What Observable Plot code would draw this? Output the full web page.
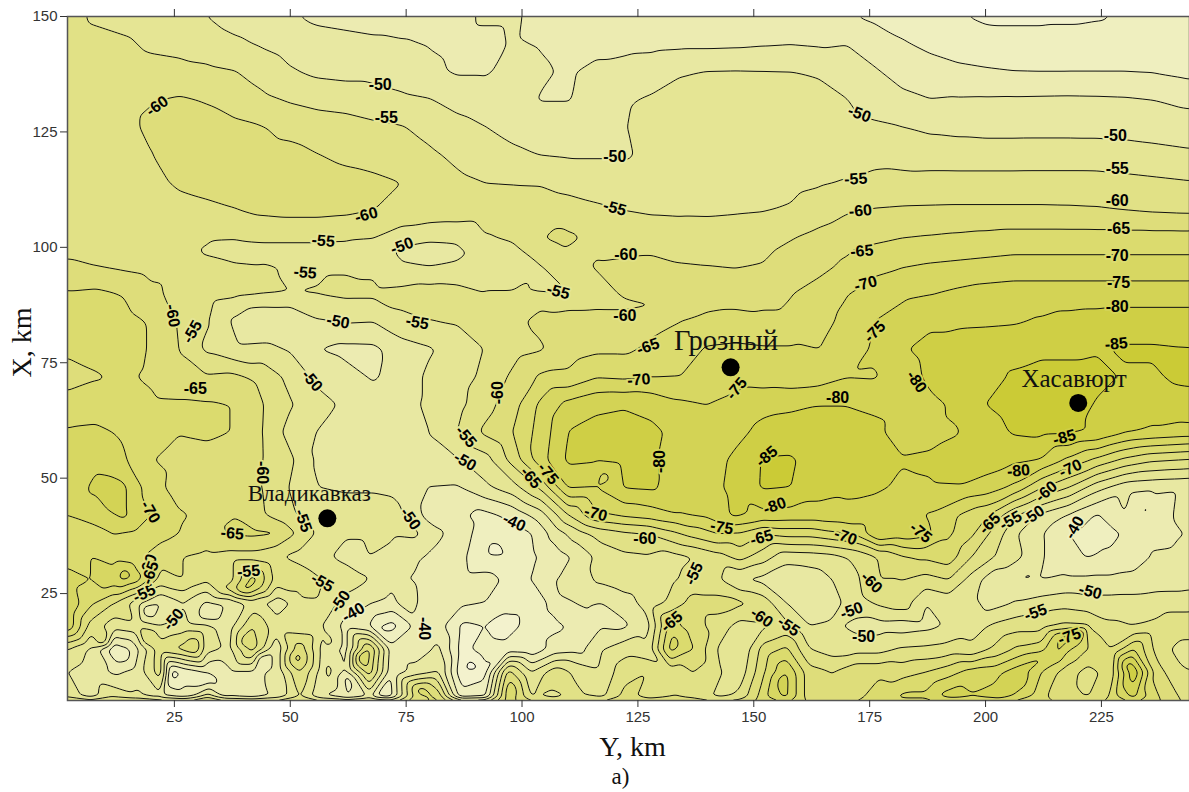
<!DOCTYPE html>
<html><head><meta charset="utf-8">
<style>html,body{margin:0;padding:0;background:#fff}svg{display:block}</style>
<script src="https://cdn.jsdelivr.net/npm/d3@7"></script>
<script src="https://cdn.jsdelivr.net/npm/@observablehq/plot@0.6"></script>
</head><body><div id="chart"></div>
<script>
const upperX = [2,8,14,20,26,32,38,44,50,56,62,68,74,80,86,92,98,104,110,116,122,128,134,140,146,152,158,164,170,176,182,188,194,200,206,212,218,224,230,236,242,248];
const upperY = [150,144,138,132,126,120,114,108,102,96,90,84,78,72,66,60,54,48,42];
const upperRows = [
[-57,-54,-53,-52,-51,-50,-48,-47,-45.5,-44,-43.5,-43,-43,-43,-44,-45.5,-45.5,-44,-44,-43.5,-43,-43,-43,-42,-42,-41,-41,-41,-40.5,-39,-38,-37,-35.5,-34,-34,-34,-34,-34.5,-35.5,-36,-36.5,-37],
[-58,-57,-56,-54,-53.5,-52.5,-51,-49.5,-48,-47,-46.5,-46,-45.5,-44.8,-44,-44,-45.3,-44.8,-44,-43.5,-43.5,-43.7,-44,-44,-44.2,-44.6,-44.9,-44.5,-44.9,-43,-40.5,-39,-38,-37.5,-37,-37,-37.5,-37.5,-37.5,-37.5,-38,-38],
[-59,-58.5,-58,-57,-56.5,-56,-55.2,-53,-50.5,-49,-48.5,-48.5,-47.5,-46,-44.5,-44.5,-46.5,-45.5,-44.5,-46.2,-47,-48,-49.5,-50.2,-50.3,-50.2,-50.1,-49.5,-48,-45.5,-43.5,-42,-41,-40.5,-40.1,-40,-40,-40,-40,-39.8,-39,-38],
[-58,-58,-59,-59.8,-60.5,-59.7,-58,-56,-54.5,-53.5,-53,-52,-51,-50.2,-48.5,-47.5,-46.5,-44.8,-44.8,-47,-49.5,-50.5,-52,-52.5,-52.7,-52.5,-52,-51.5,-50.1,-48,-46,-45.1,-45.4,-45.5,-45.6,-45.7,-45.8,-45.7,-45.5,-45,-44,-43],
[-57.5,-58,-59,-60.7,-61.5,-61.5,-61,-60.2,-58.5,-57.5,-57,-56,-55.3,-53.5,-51.5,-50.1,-48.5,-47.5,-47.5,-48.5,-49.8,-51.5,-53,-53.7,-53.8,-53.7,-53.2,-52.7,-51.5,-50.7,-50.1,-49.2,-48.8,-48.5,-48.5,-48.5,-48.5,-48.5,-48.4,-48,-47.5,-47],
[-57,-57.5,-58,-59.9,-61.5,-62,-62,-62,-61.5,-60.1,-59,-58.2,-57.5,-55.8,-54,-52.5,-51,-49.9,-49.5,-49.5,-49.5,-51,-53,-54,-54.3,-54,-53.7,-53,-53,-53.3,-52.8,-52.4,-52.3,-52.3,-52.3,-52.4,-52.4,-52.3,-52,-51.5,-51,-50.5],
[-56.5,-57,-57.5,-58.5,-60.8,-61.5,-62,-62.5,-62.5,-62.3,-61.5,-61,-60,-58,-56,-55,-54.8,-54.7,-53.8,-53.2,-52.5,-52.5,-52.5,-52.5,-52.8,-53,-53.7,-54.5,-55.3,-56.5,-56.8,-57,-57,-57,-57,-57,-57,-57,-56.5,-56,-55.5,-55],
[-56.5,-57,-57,-57.5,-58,-59,-59.8,-61,-61.5,-61.5,-61,-60,-59,-58.5,-58,-57.5,-57.5,-57,-56.5,-55.7,-55,-54.5,-54.3,-54.2,-54.5,-54.8,-55.5,-57.5,-59.5,-60.3,-60.6,-60.7,-60.8,-60.8,-60.8,-60.8,-60.7,-60.5,-60,-59.5,-59.2,-59],
[-57,-56.5,-56.5,-56.5,-56.5,-55.5,-55.3,-55.5,-55.5,-55.5,-55.3,-55,-52,-50.6,-50.8,-54.5,-55.7,-59.7,-61,-58.5,-57.5,-57.5,-57.5,-57.8,-58,-58.5,-59.8,-61.5,-63,-64,-65,-65.5,-66,-66.5,-67,-67,-67,-67,-67,-67,-67,-67],
[-61,-60,-59,-58,-57.5,-56.5,-55.7,-55.2,-54.8,-54.5,-54.5,-54,-50.5,-49.8,-50.6,-53,-53.5,-54.8,-57.5,-60.5,-61,-61.5,-60.3,-60,-59.7,-60.2,-62,-63.5,-66,-68.7,-69.7,-70.5,-71,-71.5,-72,-72,-72,-72,-72,-72,-72,-72],
[-65.5,-66,-64.8,-61.5,-58,-57,-56,-55.3,-55,-55.2,-56,-56,-56.5,-57.5,-57,-55.2,-55.2,-54.9,-54.8,-57.5,-60.7,-62,-63,-63,-63,-63.5,-64.8,-67,-69.7,-72,-74,-74.8,-76,-77,-77.5,-77.5,-77.5,-77.5,-77.5,-77.5,-77.5,-77.5],
[-66,-67,-66.5,-64.5,-59.5,-55.5,-49,-44.5,-44.8,-49.5,-50.5,-50.2,-54,-54.9,-55.5,-56.5,-59,-61,-62,-62.7,-62.5,-63.5,-64.9,-66,-66.5,-66,-66,-68,-71.5,-75,-77,-79,-79,-79.2,-79.5,-80.5,-81.5,-82,-82.5,-82.5,-82.5,-82.5],
[-66,-67,-67.5,-64.5,-60,-54,-51,-51.5,-49.5,-45,-43.8,-44,-47.5,-49.5,-52,-55.2,-58,-59.5,-62.5,-64,-64,-66,-67.5,-70.5,-71,-70.5,-70.5,-70,-71,-76,-79.5,-81.5,-82.5,-83,-83.5,-84,-84,-84.5,-85.5,-85.5,-85.2,-85],
[-63,-64.5,-66,-64,-60.2,-60.5,-61,-58.5,-53.5,-48.5,-46.5,-44.5,-47,-51,-53,-56,-61,-65.7,-66,-69.5,-69,-69.8,-70,-72,-73,-72.5,-72,-72.5,-74.7,-74.5,-77.5,-81,-83,-83.5,-85.5,-86.5,-86.5,-86.5,-84.5,-84.5,-85.7,-86],
[-67,-68,-68,-66.3,-66,-65.5,-64.9,-60.2,-55.5,-52,-49,-47,-48,-51,-53.5,-58,-63,-71,-76.5,-79,-79.5,-78.5,-76,-75,-76.5,-78.5,-79,-79.9,-79.9,-79.5,-79,-79,-80.8,-85,-87,-88,-88,-84.5,-83.5,-83,-83.5,-84],
[-70.5,-70.8,-69.5,-67,-65.2,-65.5,-64.9,-60,-53,-49.8,-47,-46.5,-47.5,-50,-55,-61,-65,-72,-80.2,-81.5,-82,-81,-78.5,-77,-78.5,-81.5,-82.5,-82,-81.5,-80.7,-78.8,-79,-79.8,-82.5,-85.5,-86,-85.7,-84.5,-80.5,-79,-78,-78],
[-72,-73.5,-70.7,-65.2,-63.5,-64,-63.5,-60.1,-56,-49,-47.5,-47.5,-48,-49.5,-49.5,-53,-62,-73,-81,-80.5,-81.5,-80.5,-78,-77.5,-81,-85.3,-85.5,-83,-82.5,-81.5,-80.2,-80.5,-81.5,-82.5,-81,-79.8,-74,-69,-64,-61,-60,-59],
[-71,-76.5,-76,-67,-63,-62,-61.5,-60,-54.7,-50,-49.5,-49.5,-49,-44.8,-44.5,-49,-53,-61,-75.5,-75,-80.3,-80.8,-77,-78,-81.5,-85.5,-85,-82,-81,-80.5,-79.5,-79.7,-79.8,-78,-74,-65.5,-60,-52,-47,-46,-45.5,-45],
[-70,-71,-76,-69.8,-65.5,-64,-64.9,-60.5,-56,-52,-52,-52,-50.5,-43,-41,-38.5,-41.5,-47.5,-60,-69,-71,-72.5,-74.8,-76,-81,-78.5,-78,-78,-78.7,-78.5,-77,-74.5,-70,-66,-56,-49,-44.5,-39.5,-45,-42,-46,-46]
];
const lowerX = [2,7,12,17,22,27,32,37,42,47,52,57,62,67,72,77,82,87,92,97,102,107,112,117,122,127,132,137,142,147,152,157,162,167,172,177,182,187,192,197,202,207,212,217,222,227,232,237,242,247];
const lowerY = [38,33,28,23,18,13,8,2];
const lowerRows = [
[-68,-69,-70,-69,-67,-64.5,-62,-65.5,-66,-65.5,-59,-53,-50.5,-50.5,-50.5,-51,-46,-42,-37.5,-38,-39.8,-47,-53,-57,-59,-60,-63.5,-67,-70,-69.5,-65.5,-67,-67,-69,-71,-80.5,-78,-76.5,-71,-66,-58,-50,-45.5,-40.5,-38,-38.5,-42,-42.5,-44.8,-46],
[-68,-70,-68,-66,-62,-60,-59,-58,-58,-55.5,-53.5,-51,-48.5,-50,-49,-46,-43.5,-41,-36,-35.5,-39,-42.5,-46,-52,-54,-54.5,-53,-55,-58,-62,-57.5,-52,-52.5,-53.5,-56,-60.5,-64.5,-66,-68,-60,-55,-51,-45.5,-42,-39.7,-41,-42.5,-46,-46.5,-47],
[-72,-70,-73,-72,-58,-60,-56,-58,-72,-58,-58,-55,-53,-50,-46,-44.5,-40,-41.5,-42,-39,-40,-44.5,-48,-51,-53,-54,-54,-57,-56,-50,-48.5,-46,-47,-50,-54,-60,-60,-58,-60,-53,-46,-44.8,-45,-46,-46,-46,-46.5,-46.8,-47,-48],
[-74,-66,-60,-52,-45,-50,-44,-46,-52,-47,-52,-53,-48,-45.5,-43.5,-44.5,-44.5,-41,-40,-37,-37,-41.5,-45.3,-44.8,-47.5,-52,-56,-62,-62,-61,-58,-50,-46,-48,-53,-56,-58,-50,-52,-51,-48,-50.5,-52,-53,-52,-52,-52,-53,-53,-54],
[-74,-58,-52,-54,-50,-52,-51,-48,-60,-52,-51,-50,-43,-40,-33,-41,-42,-34,-35,-33,-37,-39,-41,-44.5,-44,-48,-67,-62,-58,-53,-54,-56.5,-50,-51,-48.5,-48,-47.5,-48.5,-50.5,-53,-56,-58,-58,-61,-60,-56,-55,-56,-58,-58],
[-55,-49,-36,-44,-58,-62,-52,-49,-62,-46,-63,-48,-43,-66,-42,-42,-46,-33,-38,-37,-36,-42,-43,-49.5,-53,-51,-72,-65,-55,-50,-62,-66,-55,-52.5,-53,-53,-55.5,-56,-57,-56,-61,-66,-68,-72,-65,-60,-70,-58,-53,-52],
[-50,-47,-44,-47,-58,-36,-40,-44,-44,-46,-60,-47,-44,-63,-41,-47,-50,-31,-33,-62,-50,-58,-54,-51,-58,-60,-57,-60,-56,-52,-64,-75,-62,-60,-64,-64,-63,-65,-68,-72,-73,-78,-70,-63,-58,-62,-84,-62,-56,-54],
[-54,-48,-55,-52,-48,-44,-56,-44,-42,-46,-55,-44,-40,-45,-40,-60,-65,-38,-40,-68,-55,-52,-56,-54,-62,-58,-60,-58,-54,-57,-68,-76,-62,-60,-64,-68,-72,-72,-74,-76,-78,-72,-66,-62,-60,-66,-76,-66,-60,-56]
];
const detailX = [32,38,44,50,56,62,68,74,80,86,92,98,98,104,110,116,122,128,134,14.4,2.6,19.2,9.7,14,19.2,29.1,24.6,32.8,40.3,40.3,32.1,43.5,51.5,53.2,65.7,69.4,70.5,62.3,58,58.2,78,76.5,89.4,95.3,93.8,97.4,106,108.8,132.5,156.3,206.7,217,231,234.9,192.2,11.2,153.4,117.5,127,157.8,108.8,37,44,211.6,216,221.3];
const detailY = [99,99,99,99,99,99,99,99,99,99,99,99,87.5,87.5,87.5,87.5,87.5,87.5,87.5,28.9,21.3,21.5,14.4,12,15.5,13.3,7.9,6.2,26.1,14.4,20.2,10.9,11.1,26.1,11.1,17.4,3.6,6.8,7.7,14.2,4,22.8,9,17.6,34.3,4,6.6,26.3,14.8,6.2,6.8,15.3,9,43.4,2.5,44,51.6,50.1,49,25.2,102.3,26.1,26.1,10.5,12.7,17];
const detailV = [-54.5,-52.5,-54,-54,-54,-54,-53,-49,-48.5,-49,-52,-53.5,-59,-59.5,-59,-59,-59,-59.8,-63,-78,-72,-40,-58,-36,-62,-66,-32,-38,-72,-64,-42,-42,-68,-60,-72,-34,-34,-38,-52,-52,-68,-50,-28,-32,-33,-70,-58,-48,-72,-78,-80,-78,-84,-39,-78,-76.5,-87,-73,-82,-45,-61.5,-62,-64,-76,-76,-72];
const contourLevels = d3.range(-110,-15,5);
const bandStops = [-110,-90,-85,-80,-75,-70,-65,-60,-55,-50,-45,-40,-35,-30,-25];
const bandColors = ["#c8c82e","#cbcb36","#cfcf45","#d3d355","#d7d762","#dbdb6e","#dedd7a","#e1e186","#e5e594","#e8e8a2","#ecebb1","#efefbf","#f3f2cd","#f6f5dd","#f9f8e6"];
const labelX = [21.3,69.4,70.7,172.8,120,172,228,228.4,228.4,228.7,228.4,228.7,228.4,228.2,66.4,120,173,173.3,174.1,176.1,185.1,57.1,74.1,122.4,53.2,107.8,122.2,24.6,28.9,60.3,77.4,127.2,125.2,146.3,168.1,29.5,54.7,94.8,87.9,87.7,105.6,101.9,129.7,152.8,154.5,217,207.1,218.3,213.1,200.9,205.4,210.3,219.2,44,19.8,37.5,52.8,75.9,98.3,115.9,126.5,143.1,151.7,169.8,186,137.1,175.4,171.1,210.8,222.6,151.7,157.5,173.7,132.3,218.1,41,56.9,60.8,63.6,78.9,18.5,24.8,19.4,19.8];
const labelY = [130.6,135.2,128,128.9,119.6,114.8,124.1,117,110.1,104,98.2,92.3,87.1,79.1,107,108.5,107.9,99.2,92.1,81.7,70.9,101.4,100.3,98.4,94.5,90.4,85.2,85.2,81.7,83.9,83.7,78.5,71.3,69.4,67.4,69.4,71.1,68.5,59,53.6,51,50.1,53.6,54.7,44,58.8,51.6,52.1,47.1,40.2,40.8,41.9,39.3,51.2,42.7,38,40.8,41.2,40.4,42.3,36.9,39.3,37.1,37.3,38.2,29.3,27.4,21.3,20.9,25.4,19.8,17.9,15.7,18.9,15.7,29.8,27.4,23.3,20.9,17.4,25,19.4,31.1,29.5];
const labelV = [-60,-50,-55,-50,-50,-55,-50,-55,-60,-65,-70,-75,-80,-85,-60,-55,-60,-65,-70,-75,-80,-55,-50,-60,-55,-55,-60,-60,-55,-50,-55,-65,-70,-75,-80,-65,-50,-60,-55,-50,-75,-65,-80,-85,-80,-85,-80,-70,-60,-65,-55,-50,-40,-60,-70,-65,-55,-50,-40,-70,-60,-75,-65,-70,-75,-55,-60,-50,-55,-50,-60,-55,-50,-65,-75,-55,-55,-50,-40,-40,-55,-50,-60,-65];
const labelR = [-35,0,0,20,0,-3,0,0,0,0,0,0,0,-5,-15,15,-5,-5,-15,-45,55,5,-20,0,5,15,0,80,-60,10,10,-20,-5,-50,0,0,50,-90,50,30,50,50,-90,-40,-20,-15,-5,-25,-40,-45,-30,-35,-60,90,60,5,70,55,25,15,0,10,-15,20,40,-65,45,-20,-20,15,35,35,0,-40,-20,-5,30,-55,-30,90,-25,-50,-70,-70];
const cityName = ["Владикавказ","Грозный","Хасавюрт"];
const cityX = [58,145,220];
const cityY = [41.3,74,66.3];
const cityLabelX = [54.1,144,219.1];
const cityLabelY = [46.6,79.8,71.5];
const citySize = [23,28.5,25];
const xTicks = [25,50,75,100,125,150,175,200,225];
const yTicks = [25,50,75,100,125,150];

const samples = [];
upperRows.forEach((r,i)=>r.forEach((v,j)=>samples.push({x:upperX[j],y:upperY[i],v})));
lowerRows.forEach((r,i)=>r.forEach((v,j)=>samples.push({x:lowerX[j],y:lowerY[i],v})));
detailV.forEach((v,i)=>samples.push({x:detailX[i],y:detailY[i],v}));
const labels = labelX.map((x,i)=>({x,y:labelY[i],v:labelV[i],r:labelR[i]}));
const cities = cityName.map((n,i)=>({n,x:cityX[i],y:cityY[i],lx:cityLabelX[i],ly:cityLabelY[i],s:citySize[i]}));
const halo = d3.scaleLinear().domain(bandStops).range(bandColors);
const sans = "Liberation Sans, Arial, sans-serif", serif = "Liberation Serif, Times New Roman, serif";

const plot = Plot.plot({
  width:1189,height:792,marginTop:16,marginBottom:92,marginLeft:67,marginRight:0,
  style:{background:"#fff",overflow:"visible"},
  x:{domain:[1.94,244]},
  y:{domain:[1.84,150]},
  color:{type:"linear",domain:bandStops,range:bandColors},
  marks:[
    Plot.contour(samples,{x:"x",y:"y",fill:"v",interpolate:"barycentric",thresholds:contourLevels,pixelSize:1,blur:2,stroke:"#111",strokeWidth:1,clip:true}),
    Plot.text(labels,{x:"x",y:"y",text:d=>String(d.v),rotate:"r",fontSize:16,fontWeight:700,fontFamily:sans,fill:"#000",stroke:{value:d=>halo(d.v),scale:null},strokeWidth:4,clip:true}),
    Plot.dot(cities,{x:"x",y:"y",r:9,fill:"#000"}),
    Plot.text(cities,{x:"lx",y:"ly",text:"n",fontSize:"s",fontFamily:serif,fill:"#111"}),
    Plot.frame({stroke:"#555",strokeWidth:1.5}),
    Plot.axisX({anchor:"bottom",ticks:xTicks,tickSize:7,tickPadding:4,fontSize:15,fontFamily:sans,label:null,color:"#333"}),
    Plot.axisX({anchor:"top",ticks:xTicks,tickSize:8,tickFormat:()=>"",label:null,color:"#333"}),
    Plot.axisY({anchor:"left",ticks:yTicks,tickSize:7,tickPadding:3,fontSize:15,fontFamily:sans,label:null,color:"#333"}),
    Plot.text(["Y, km"],{frameAnchor:"bottom",dx:4,dy:55,fontSize:28,fontFamily:serif,fill:"#111"}),
    Plot.text(["a)"],{frameAnchor:"bottom",dx:-8,dy:83,fontSize:23,fontFamily:serif,fill:"#111"}),
    Plot.text(["X, km"],{frameAnchor:"left",textAnchor:"middle",rotate:-90,dx:-45,dy:-16,fontSize:28,fontFamily:serif,fill:"#111"})
  ]
});
document.getElementById("chart").appendChild(plot);
</script></body></html>
